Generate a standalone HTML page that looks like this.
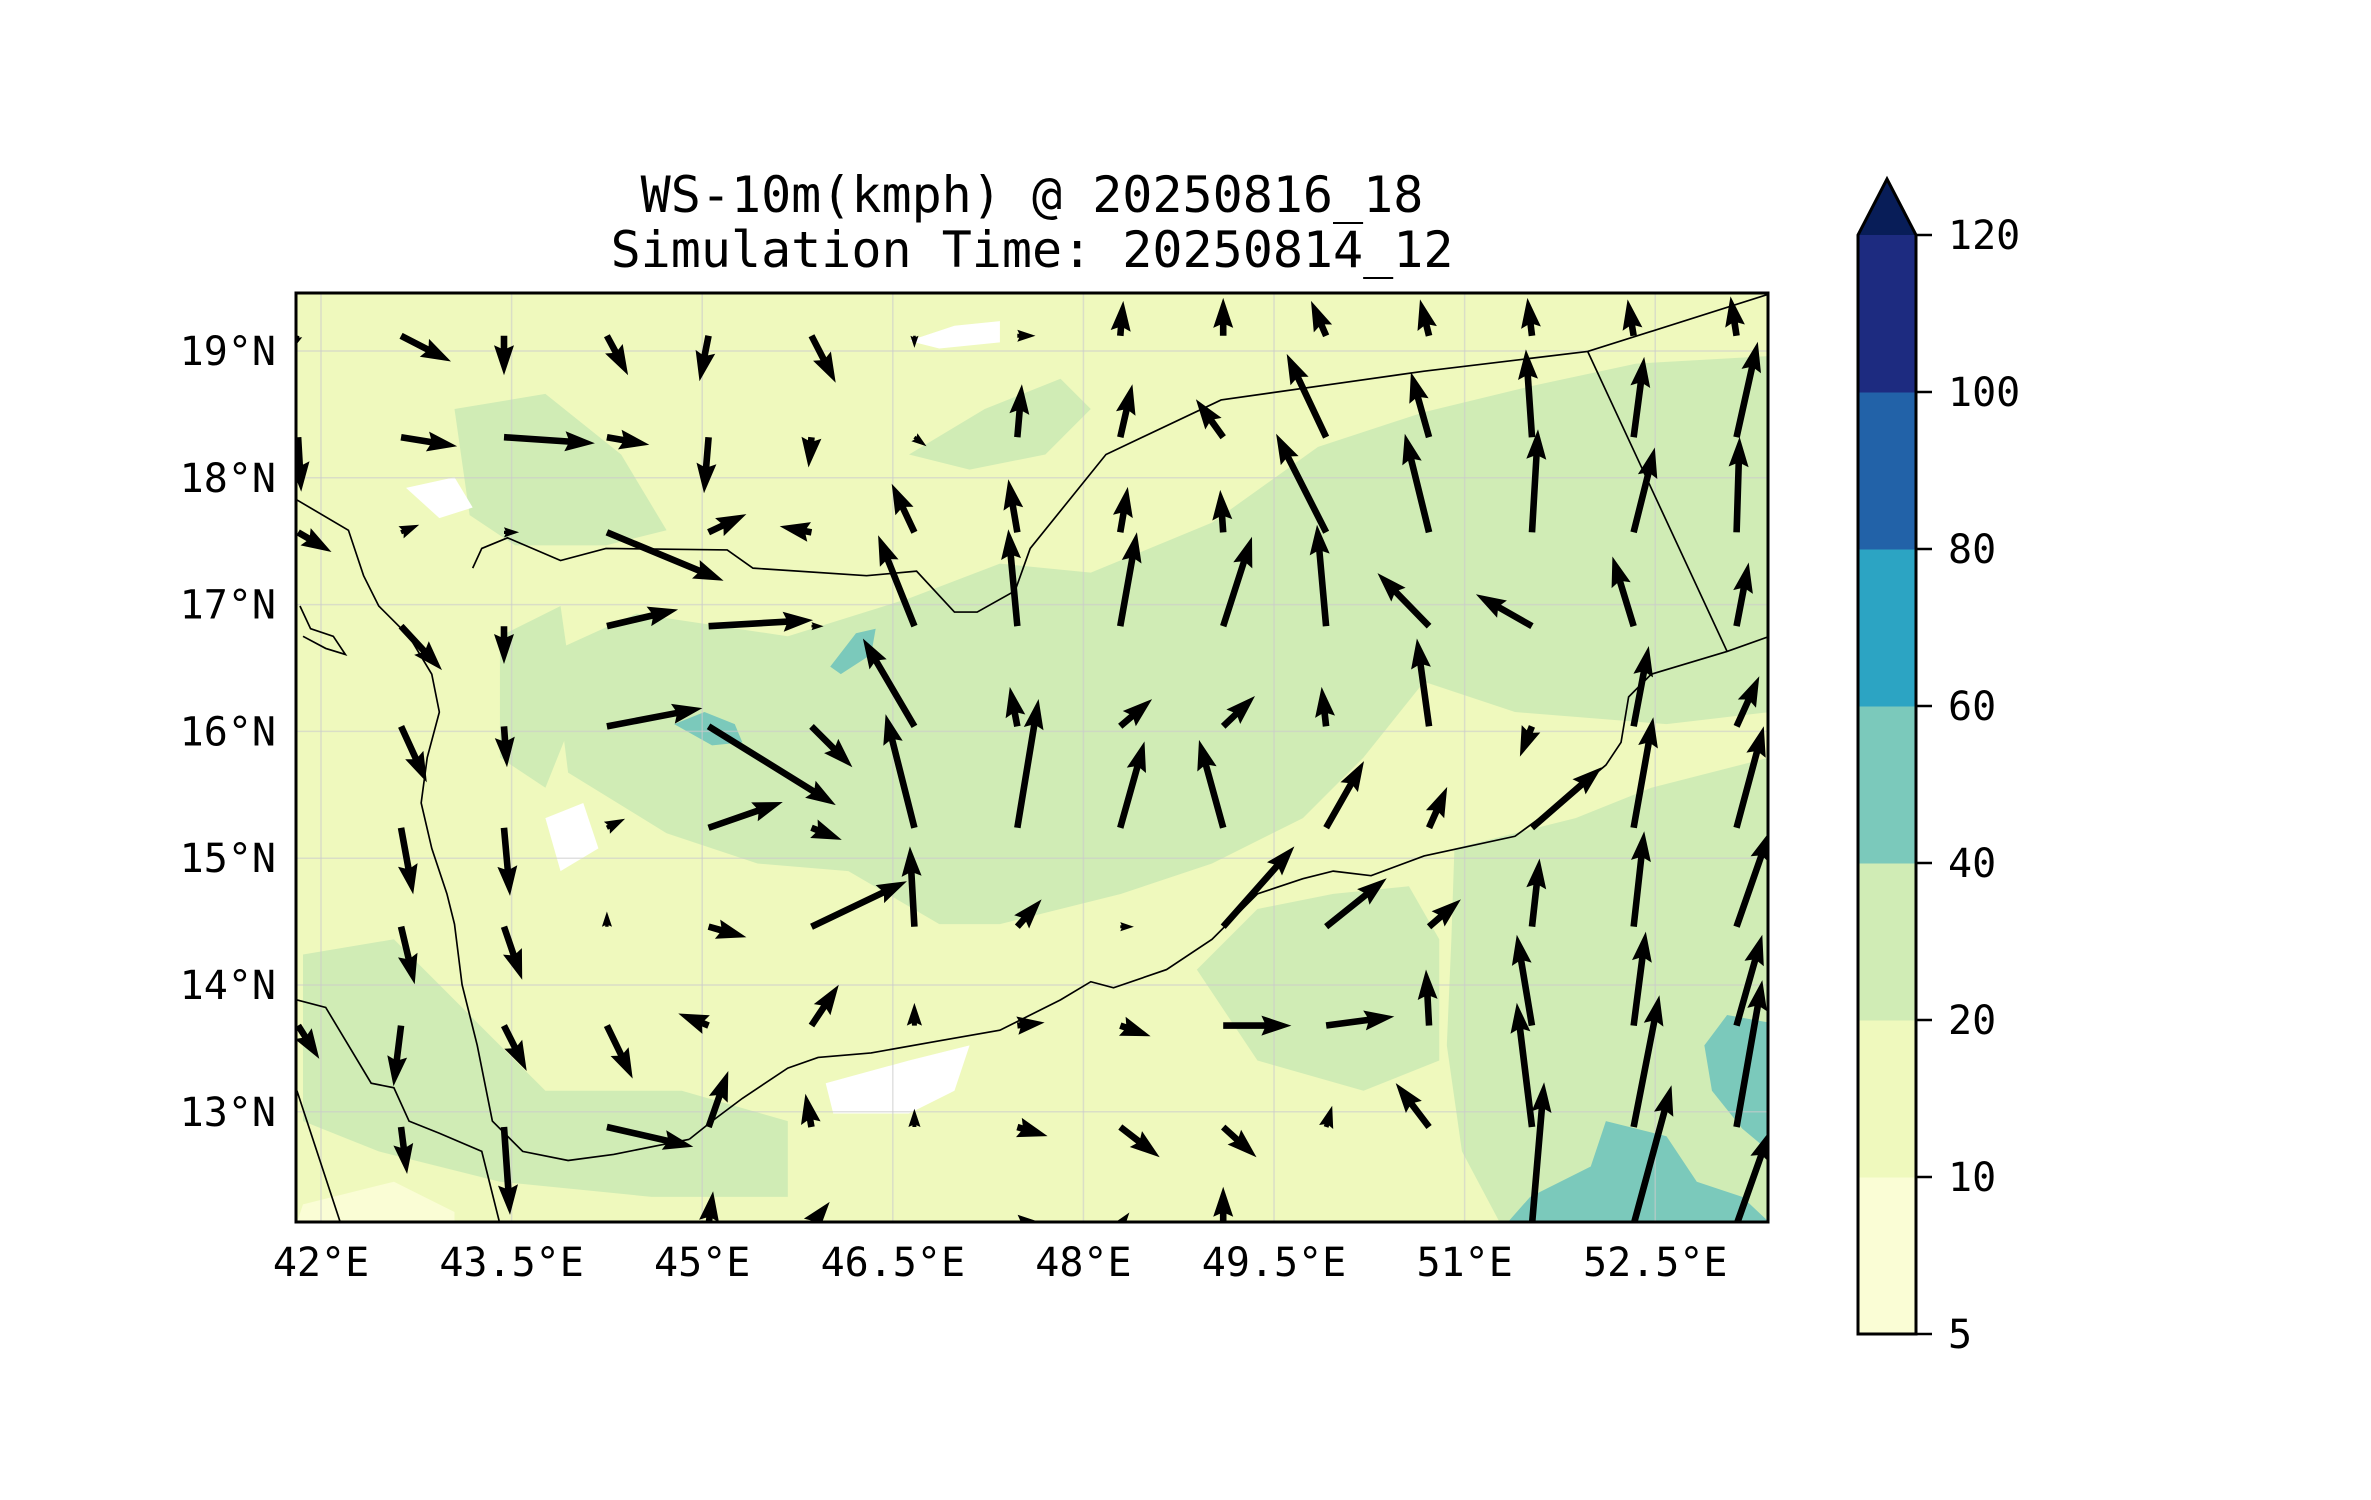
<!DOCTYPE html>
<html><head><meta charset="utf-8"><style>
html,body{margin:0;padding:0;background:#fff}
svg{display:block}
text{font-family:"DejaVu Sans Mono","Liberation Mono",monospace;fill:#000}
</style></head><body>
<svg id="chart" width="2371" height="1500" viewBox="0 0 2371 1500" xmlns="http://www.w3.org/2000/svg">
<defs><clipPath id="mapclip"><rect x="296" y="293" width="1472" height="929"/></clipPath></defs>
<text x="1032" y="212" font-size="50" text-anchor="middle">WS-10m(kmph) @ 20250816_18</text>
<text x="1032" y="267" font-size="50" text-anchor="middle">Simulation Time: 20250814_12</text>
<g clip-path="url(#mapclip)">
<rect x="296" y="293" width="1472" height="929" fill="#eff9bd"/>
<g transform="scale(1.515)">
<polygon fill="#d0ecb5" points="365,430 420,405 520,420 600,395 660,372 720,378 800,345 870,295 940,272 1010,255 1080,240 1168,235 1168,470 1100,478 1000,470 940,450 900,500 860,540 800,570 740,590 700,600 660,610 620,610 560,575 500,570 440,550 375,510"/>
<polygon fill="#d0ecb5" points="960,560 1040,540 1090,520 1168,500 1168,807 990,807 965,760 955,690 958,620"/>
<polygon fill="#d0ecb5" points="790,640 830,600 880,590 930,585 950,620 950,700 900,720 830,700"/>
<polygon fill="#d0ecb5" points="300,270 360,260 410,300 440,350 400,360 340,360 310,340"/>
<polygon fill="#d0ecb5" points="200,630 260,620 320,680 360,720 450,720 520,740 520,790 430,790 330,780 250,760 200,740"/>
<polygon fill="#d0ecb5" points="600,300 650,270 700,250 720,270 690,300 640,310"/>
<polygon fill="#d0ecb5" points="330,420 370,400 380,470 360,520 330,500"/>
<polygon fill="#7bc9bb" points="445,478 465,470 485,478 490,490 470,492"/>
<polygon fill="#7bc9bb" points="548,440 565,418 578,415 575,432 555,445"/>
<polygon fill="#7bc9bb" points="995,807 1010,790 1050,770 1060,740 1100,750 1120,780 1150,790 1168,807"/>
<polygon fill="#7bc9bb" points="1125,690 1140,670 1168,675 1168,760 1150,745 1130,720"/>
<polygon fill="#ffffff" points="545,715 600,700 640,690 630,720 600,735 550,735"/>
<polygon fill="#ffffff" points="600,225 630,215 660,212 660,226 620,230"/>
<polygon fill="#ffffff" points="268,322 300,315 312,335 290,342"/>
<polygon fill="#ffffff" points="360,540 385,530 395,560 370,575"/>
<polygon fill="#fafdd5" points="200,795 260,780 300,800 300,807 196,807"/>
</g>
<g id="gridlines" stroke="#cccccc" stroke-opacity="0.6" stroke-width="1.5"></g>
<g transform="scale(1.515)" fill="none" stroke="#000" stroke-width="1.1">
<polyline points="312,375 318,362 335,355 370,370 400,362 480,363 497,375 572,380 605,377 630,404 645,404 670,390 680,362 730,300 806,264 940,245 1048,232 1168,194"/>
<polyline points="1048,232 1140,430"/>
<polyline points="455,752 470,740 490,725 520,705 540,698 575,695 620,687 660,680 700,660 720,648 735,652 770,640 800,620 830,590 860,580 880,575 905,578 940,565 1000,552 1030,530 1060,505 1070,490 1075,460 1090,445 1140,430 1168,420"/>
<polyline points="196,330 230,350 240,380 250,400 270,420 285,445 290,470 282,500 278,530 285,560 295,590 300,610 305,650 315,690 325,740 345,760 375,766 405,762 440,755 455,752"/>
<polyline points="196,660 215,665 230,690 245,715 260,718 270,740 290,748 318,760 330,808"/>
<polyline points="196,720 225,808"/>
<polyline points="198,400 205,415 220,420 228,432 215,428 200,420"/>
</g>
<g id="arrows"></g>
</g>
<rect x="296" y="293" width="1472" height="929" fill="none" stroke="#000" stroke-width="3"/>
<g id="axes"></g>
<g id="colorbar"></g>
</svg>
<script>
const xTickLons = [42, 43.5, 45, 46.5, 48, 49.5, 51, 52.5];
const xTickLabels = ["42°E","43.5°E","45°E","46.5°E","48°E","49.5°E","51°E","52.5°E"];
const yTickLats = [19, 18, 17, 16, 15, 14, 13];
const yTickLabels = ["19°N","18°N","17°N","16°N","15°N","14°N","13°N"];
const cbLevels = [5, 10, 20, 40, 60, 80, 100, 120];
const cbColors = ["#fafdd5","#eff9bd","#d0ecb5","#7bc9bb","#2ca4c3","#2262a8","#1d2b80"];
const cbExtendColor = "#081d58";
const gridLons = [41.82,42.63,43.44,44.25,45.05,45.86,46.67,47.48,48.29,49.10,49.91,50.72,51.53,52.33,53.14];
const gridLats = [19.12,18.32,17.57,16.83,16.04,15.24,14.46,13.68,12.88,12.11];
const uWind = [
[-3,33,0,14,-6,16,0,12,2,0,-10,-6,-3,-4,-4],
[2,37,60,28,-3,-2,8,3,8,-18,-26,-12,-4,7,14],
[22,12,10,77,25,-21,-15,-6,5,-2,-33,-16,4,14,2],
[0,27,0,47,69,8,-24,-6,11,19,-6,-34,-37,-14,8],
[0,17,2,63,84,27,-34,-5,21,21,-3,-8,-8,10,15],
[0,8,4,12,49,20,-19,14,16,-16,25,12,46,13,18],
[0,9,12,0,25,63,-3,16,9,47,40,21,5,7,22],
[14,-5,15,17,-20,18,0,18,20,45,45,-2,-10,8,17],
[0,4,4,57,13,-4,0,20,26,22,4,-22,-10,17,17],
[0,0,0,0,3,12,0,20,6,0,22,0,8,25,22]
];
const vWind = [
[-8,-17,-26,-26,-30,-31,-8,0,23,25,23,24,25,24,26],
[-36,-6,-4,-5,-37,-20,-6,35,35,25,55,43,58,53,63],
[-13,5,0,-32,12,4,32,35,30,28,65,65,68,56,63],
[0,-29,-25,11,4,0,60,64,62,59,67,35,21,46,42],
[0,-37,-27,12,-52,-27,58,26,18,20,26,58,-20,53,33],
[0,-44,-45,6,17,-8,75,85,57,58,44,27,40,73,67],
[0,-38,-35,10,-7,30,53,18,0,53,32,18,45,63,63],
[-22,-40,-30,-35,8,27,15,2,-7,0,6,37,60,62,60],
[0,-31,-58,-13,37,22,12,-6,-20,-20,14,29,82,87,97],
[0,0,0,0,22,15,0,0,8,25,-15,0,94,92,62]
];
const NS = "http://www.w3.org/2000/svg";
const xOf = lon => 321 + (lon - 42) * 127.07;
const yOf = lat => 351 + (19 - lat) * 126.8;
const vecScale = 1.515;
function mk(tag, attrs, parent) {
  const e = document.createElementNS(NS, tag);
  for (const k in attrs) e.setAttribute(k, attrs[k]);
  parent.appendChild(e);
  return e;
}
const gl = document.getElementById('gridlines');
xTickLons.forEach(lon => {
  const l = mk('line', {x1: xOf(lon), x2: xOf(lon), y1: 293, y2: 1222}, gl);
  
  
});
yTickLats.forEach(lat => {
  const l = mk('line', {x1: 296, x2: 1768, y1: yOf(lat), y2: yOf(lat)}, gl);
  
  
});
const ax = document.getElementById('axes');
xTickLons.forEach((lon, i) => {
  const t = mk('text', {x: xOf(lon), y: 1276, 'font-size': 40, 'text-anchor': 'middle'}, ax);
  t.textContent = xTickLabels[i];
  
  
});
yTickLats.forEach((lat, i) => {
  const t = mk('text', {x: 276, y: yOf(lat) + 14, 'font-size': 40, 'text-anchor': 'end'}, ax);
  t.textContent = yTickLabels[i];
  
  
});
const ag = document.getElementById('arrows');
gridLats.forEach((lat, r) => {
  gridLons.forEach((lon, c) => {
    const u = uWind[r][c], v = vWind[r][c];
    const dx = u * vecScale, dy = -v * vecScale;
    const L = Math.hypot(dx, dy);
    if (L < 1) return;
    const x0 = xOf(lon), y0 = yOf(lat);
    const ux = dx / L, uy = dy / L, nx = -uy, ny = ux;
    let w = 3.3, hw = 10, hl = 30, ha = 27;
    if (L < hl) { const s = L / hl; w *= s; hw *= s; hl *= s; ha *= s; }
    const P = (a, b) => (x0 + ux * a + nx * b).toFixed(1) + ',' + (y0 + uy * a + ny * b).toFixed(1);
    const pts = [P(0, w), P(L - ha, w), P(L - hl, hw), P(L, 0), P(L - hl, -hw), P(L - ha, -w), P(0, -w)].join(' ');
    const a = mk('polygon', {points: pts, fill: '#000'}, ag);
    
    
  });
});
const cb = document.getElementById('colorbar');
const cbTop = 235, cbBottom = 1334, cbX = 1858, cbW = 58;
const cbStep = (cbBottom - cbTop) / (cbLevels.length - 1);
const cbY = i => cbBottom - i * cbStep;
cbColors.forEach((col, i) => {
  const r = mk('rect', {x: cbX, y: cbY(i + 1), width: cbW, height: cbStep + 0.5, fill: col}, cb);
  
  
});
const tri = mk('polygon', {points: `${cbX},${cbTop} ${cbX + cbW / 2},179 ${cbX + cbW},${cbTop}`, fill: cbExtendColor}, cb);


const outline = mk('polygon', {points: `${cbX},${cbBottom} ${cbX},${cbTop} ${cbX + cbW / 2},179 ${cbX + cbW},${cbTop} ${cbX + cbW},${cbBottom}`, fill: 'none', stroke: '#000', 'stroke-width': 3}, cb);


cbLevels.forEach((lv, i) => {
  const tk = mk('line', {x1: cbX + cbW, x2: cbX + cbW + 16, y1: cbY(i), y2: cbY(i), stroke: '#000', 'stroke-width': 2.5}, cb);
  
  
  const t = mk('text', {x: 1948, y: cbY(i) + 14, 'font-size': 40}, cb);
  t.textContent = String(lv);
  
  
});
</script>
</body></html>
